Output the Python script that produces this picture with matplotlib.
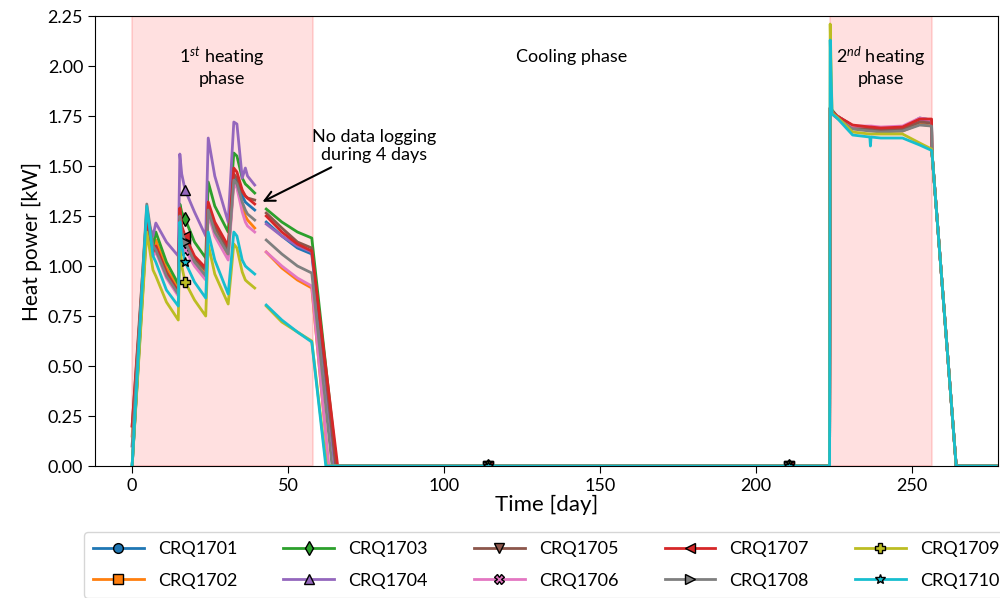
import matplotlib
matplotlib.use('Agg')
import matplotlib.pyplot as plt
import numpy as np

plt.rcParams['font.family'] = ['Lato', 'DejaVu Sans']
plt.rcParams['mathtext.fontset'] = 'custom'
plt.rcParams['mathtext.rm'] = 'Lato'
plt.rcParams['mathtext.it'] = 'Lato:italic'

# ---------------- data ----------------
names = ['CRQ1701', 'CRQ1702', 'CRQ1703', 'CRQ1704', 'CRQ1705',
         'CRQ1706', 'CRQ1707', 'CRQ1708', 'CRQ1709', 'CRQ1710']
markers = ['o', 's', 'd', '^', 'v', 'X', '<', '>', 'P', '*']
colors = ['#1f77b4', '#ff7f0e', '#2ca02c', '#9467bd', '#8c564b',
          '#e377c2', '#d62728', '#7f7f7f', '#bcbd22', '#17becf']

# first heating phase, before the logging gap
t_heat1a = [0, 4.7, 6.7, 7.6, 11.0, 14.8, 15.3, 15.9, 17.0, 20.0,
            23.6, 24.4, 26.5, 30.8, 32.6, 33.6, 35.3, 36.3, 37.0, 39.3]
p_heat1a = [
    [0.0, 1.25, 1.08, 1.10, 0.97, 0.86, 1.24, 1.17, 1.11, 1.03, 0.97, 1.29, 1.19, 1.07, 1.44, 1.42, 1.35, 1.32, 1.31, 1.28],
    [0.15, 1.24, 1.09, 1.13, 0.99, 0.89, 1.24, 1.17, 1.11, 1.02, 0.96, 1.29, 1.18, 1.05, 1.43, 1.40, 1.30, 1.25, 1.23, 1.19],
    [0.0, 1.20, 1.10, 1.17, 1.02, 0.91, 1.31, 1.27, 1.235, 1.12, 1.04, 1.42, 1.30, 1.17, 1.565, 1.55, 1.44, 1.41, 1.40, 1.365],
    [0.0, 1.24, 1.15, 1.215, 1.12, 1.05, 1.56, 1.46, 1.38, 1.27, 1.15, 1.64, 1.45, 1.22, 1.72, 1.71, 1.44, 1.49, 1.45, 1.405],
    [0.2, 1.27, 1.08, 1.10, 0.97, 0.87, 1.27, 1.18, 1.12, 1.04, 0.98, 1.30, 1.20, 1.08, 1.46, 1.44, 1.37, 1.35, 1.34, 1.33],
    [0.1, 1.22, 1.05, 1.07, 0.94, 0.85, 1.22, 1.14, 1.08, 1.00, 0.93, 1.26, 1.15, 1.03, 1.41, 1.39, 1.27, 1.22, 1.20, 1.17],
    [0.2, 1.22, 1.07, 1.10, 0.96, 0.87, 1.29, 1.20, 1.15, 1.05, 0.99, 1.32, 1.22, 1.10, 1.49, 1.47, 1.38, 1.35, 1.34, 1.31],
    [0.1, 1.31, 1.10, 1.08, 0.95, 0.86, 1.25, 1.17, 1.12, 1.02, 0.95, 1.28, 1.17, 1.06, 1.43, 1.41, 1.32, 1.28, 1.26, 1.23],
    [0.0, 1.17, 0.98, 0.95, 0.82, 0.73, 1.13, 1.00, 0.92, 0.83, 0.75, 1.11, 0.96, 0.81, 1.11, 1.09, 0.97, 0.93, 0.92, 0.89],
    [0.0, 1.30, 1.05, 1.02, 0.88, 0.80, 1.22, 1.10, 1.02, 0.92, 0.84, 1.17, 1.03, 0.86, 1.17, 1.15, 1.03, 1.00, 0.99, 0.96],
]

# first heating phase, after the gap
t_heat1b = [43.0, 48.0, 53.0, 57.6]
p_heat1b = [
    [1.22, 1.15, 1.09, 1.06],
    [1.07, 0.99, 0.93, 0.89],
    [1.285, 1.22, 1.17, 1.14],
    [1.21, 1.15, 1.10, 1.07],
    [1.265, 1.19, 1.12, 1.09],
    [1.07, 1.00, 0.94, 0.90],
    [1.25, 1.17, 1.11, 1.075],
    [1.13, 1.06, 1.00, 0.965],
    [0.80, 0.72, 0.67, 0.625],
    [0.805, 0.73, 0.67, 0.62],
]
t_off = [65.0, 63.0, 65.6, 65.0, 65.3, 63.0, 65.9, 64.1, 62.3, 62.1]

# cooling phase (zero power)
t_cool = [114.0, 210.5, 223.6]

# start-up spike of the second heating phase
t_spike = 223.8
p_spike = [1.79, 1.79, 1.79, 1.79, 1.79, 1.79, 1.79, 1.79, 2.21, 2.13]

# second heating phase
t_heat2 = [224.4, 226.0, 231.0, 236.5, 236.7, 236.9, 240.0, 247.0, 252.5, 256.3]
p_heat2 = [
    [1.77, 1.75, 1.70, 1.69, 1.69, 1.69, 1.685, 1.69, 1.74, 1.73],
    [1.77, 1.74, 1.69, 1.68, 1.68, 1.68, 1.675, 1.675, 1.71, 1.70],
    [1.78, 1.75, 1.70, 1.685, 1.685, 1.685, 1.68, 1.685, 1.725, 1.72],
    [1.77, 1.75, 1.70, 1.69, 1.69, 1.69, 1.685, 1.69, 1.73, 1.725],
    [1.775, 1.75, 1.70, 1.685, 1.685, 1.685, 1.68, 1.685, 1.72, 1.715],
    [1.77, 1.75, 1.70, 1.70, 1.70, 1.70, 1.695, 1.70, 1.74, 1.73],
    [1.77, 1.75, 1.705, 1.695, 1.695, 1.695, 1.69, 1.695, 1.735, 1.735],
    [1.76, 1.74, 1.685, 1.675, 1.675, 1.675, 1.67, 1.675, 1.705, 1.70],
    [1.765, 1.745, 1.67, 1.66, 1.66, 1.66, 1.66, 1.66, 1.615, 1.585],
    [1.76, 1.74, 1.655, 1.645, 1.60, 1.645, 1.64, 1.64, 1.605, 1.578],
]
t_end = [256.4, 264.2, 277.0]
p_end = [1.575, 0.0, 0.0]

marker_days = [17.0, 114.0, 210.5]

# ---------------- figure ----------------
fig = plt.figure(figsize=(10, 5.98), dpi=100)
ax = fig.add_axes([0.095, 0.2207, 0.903, 0.7525])

ax.axvspan(0, 58, color='red', alpha=0.12, lw=1.5)
ax.axvspan(223.7, 256.3, color='red', alpha=0.12, lw=1.5)

for i, name in enumerate(names):
    t = (t_heat1a + [41.0] + t_heat1b + [t_off[i]] + t_cool + [t_spike]
         + t_heat2 + t_end)
    p = (p_heat1a[i] + [np.nan] + p_heat1b[i] + [0.0] + [0.0] * len(t_cool)
         + [p_spike[i]] + p_heat2[i] + p_end)
    t = np.array(t)
    idx = [int(np.argmin(np.abs(t - m))) for m in marker_days]
    ax.plot(t, p, lw=2, color=colors[i], marker=markers[i], markevery=idx,
            markersize=7, markeredgecolor='black', markeredgewidth=1,
            label=name)

ax.set_xlim(-11.9, 277.6)
ax.set_ylim(0, 2.25)
ax.set_xticks([0, 50, 100, 150, 200, 250])
ax.set_yticks(np.arange(0, 2.26, 0.25))
ax.tick_params(labelsize=13, length=5)
ax.set_xlabel('Time [day]', fontsize=16, labelpad=1)
ax.set_ylabel('Heat power [kW]', fontsize=15)

ax.text(28.8, 2.0, '1$^{st}$ heating\nphase', ha='center', va='center', fontsize=13)
ax.text(141, 2.045, 'Cooling phase', ha='center', va='center', fontsize=13)
ax.text(240, 2.0, '2$^{nd}$ heating\nphase', ha='center', va='center', fontsize=13)
ax.annotate('No data logging\nduring 4 days', xy=(41.0, 1.315), xytext=(77.5, 1.6),
            ha='center', va='center', fontsize=13,
            arrowprops=dict(arrowstyle='->', color='black', lw=1.5,
                            mutation_scale=18))

fig.legend(loc='upper left', bbox_to_anchor=(0.075, 0.125), ncol=5,
           fontsize=13, handlelength=2.8, handletextpad=0.8,
           columnspacing=2.55, labelspacing=0.85, borderpad=0.5)

fig.savefig('out.png', dpi=100)
